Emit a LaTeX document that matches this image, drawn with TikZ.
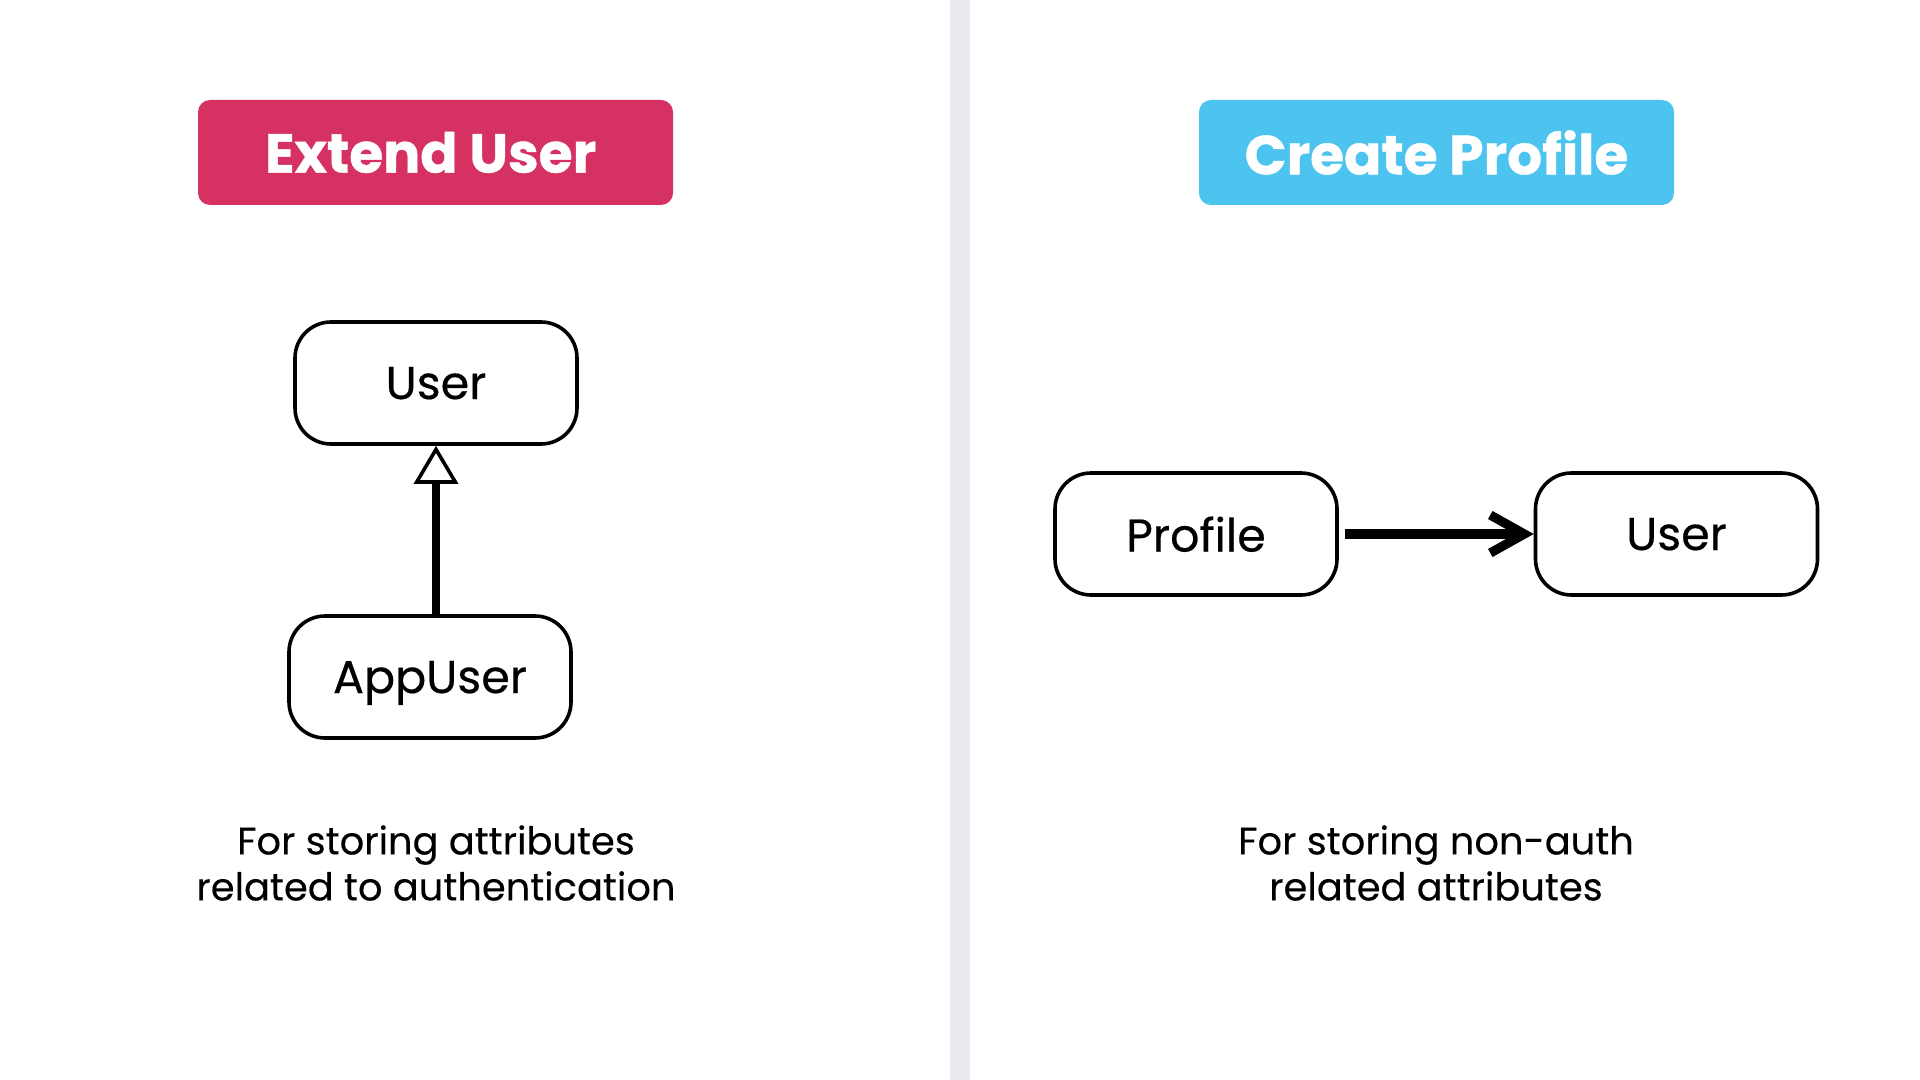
\documentclass[tikz,border=0pt]{standalone}
\usepackage{fontspec}
\setmainfont{Poppins}
\newfontfamily\pmed{Poppins}[FakeBold=0.4]
\newfontfamily\ptitle{Poppins}[FakeBold=0.8]
\newfontfamily\pdesc{Poppins}[FakeBold=0.15]
\usetikzlibrary{arrows.meta}
\definecolor{crimson}{HTML}{D63163}
\definecolor{sky}{HTML}{4DC4F0}
\definecolor{divgray}{HTML}{EAEAEF}
\tikzset{
  titlebox/.style={rounded corners=6pt, minimum width=237.5pt, minimum height=52.5pt, text=white, inner sep=0pt, font=\ptitle\bfseries\fontsize{27.5}{32}\selectfont},
  clsbox/.style={draw=black, line width=1.8pt, rounded corners=18pt, minimum width=141pt, minimum height=61pt, inner sep=0pt, text depth=0pt, font=\pmed\fontsize{23}{27}\selectfont},
  desc/.style={align=center, inner sep=0pt, font=\pdesc\fontsize{19.2}{23}\selectfont},
  inherit/.style={line width=3.7pt, -{Triangle[open, length=19pt, width=22pt, line width=1.8pt]}},
  assoc/.style={line width=4.6pt, -{Straight Barb[length=17pt, width=19pt, line cap=butt, line join=miter]}}
}
\begin{document}
\begin{tikzpicture}[x=0.5pt, y=-0.5pt]
  \fill[white] (0,0) rectangle (1920,1080);
  \useasboundingbox (0,0) rectangle (1920,1080);
  \fill[divgray] (950,0) rectangle (970,1080);

  % left panel
  \node[titlebox, fill=crimson] (t1) at (435.5,152.5) {Extend User\hspace*{5pt}};
  \node[clsbox] (user1) at (436,383) {User};
  \node[clsbox] (appuser) at (430,677) {AppUser};
  \node[desc] (d1) at (436,863) {For storing attributes\\related to authentication};
  \coordinate (a1) at (user1.south |- appuser.north);
  \draw[inherit] (a1) -- (user1.south);

  % right panel
  \node[titlebox, fill=sky] (t2) at (1436.5,152.5) {Create Profile};
  \node[clsbox] (profile) at (1196,534) {Profile};
  \node[clsbox] (user2) at (1676.5,534) {User};
  \node[desc] (d2) at (1436,863) {For storing non-auth\\related attributes};
  \draw[assoc, shorten <=3pt] (profile) -- (user2);
\end{tikzpicture}
\end{document}
